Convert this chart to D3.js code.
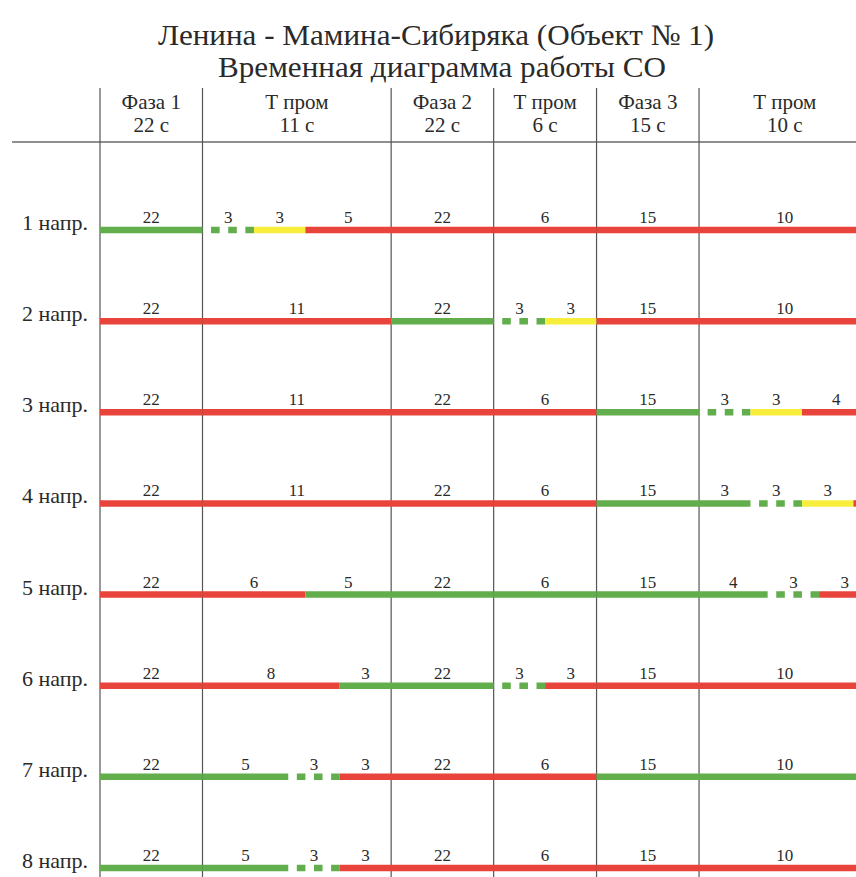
<!DOCTYPE html>
<html>
<head>
<meta charset="utf-8">
<script src="https://cdn.jsdelivr.net/npm/d3@7"></script>
</head>
<body style="margin:0">
<script>
// columns of the cycle
let colNames = ["Фаза 1", "Т пром", "Фаза 2", "Т пром", "Фаза 3", "Т пром"];
let colDur = [22, 11, 22, 6, 15, 10];
let colIsPhase = [true, false, true, false, true, false];

let rowNames = ["1 напр.", "2 напр.", "3 напр.", "4 напр.", "5 напр.", "6 напр.", "7 напр.", "8 напр."];

// signal per row, per column: [state, seconds]; g = green, gb = blinking green, y = yellow, r = red
let row1 = [[["g", 22]], [["gb", 3], ["y", 3], ["r", 5]], [["r", 22]], [["r", 6]], [["r", 15]], [["r", 10]]];
let row2 = [[["r", 22]], [["r", 11]], [["g", 22]], [["gb", 3], ["y", 3]], [["r", 15]], [["r", 10]]];
let row3 = [[["r", 22]], [["r", 11]], [["r", 22]], [["r", 6]], [["g", 15]], [["gb", 3], ["y", 3], ["r", 4]]];
let row4 = [[["r", 22]], [["r", 11]], [["r", 22]], [["r", 6]], [["g", 15]], [["g", 3], ["gb", 3], ["y", 3], ["r", 1]]];
let row5 = [[["r", 22]], [["r", 6], ["g", 5]], [["g", 22]], [["g", 6]], [["g", 15]], [["g", 4], ["gb", 3], ["r", 3]]];
let row6 = [[["r", 22]], [["r", 8], ["g", 3]], [["g", 22]], [["gb", 3], ["r", 3]], [["r", 15]], [["r", 10]]];
let row7 = [[["g", 22]], [["g", 5], ["gb", 3], ["r", 3]], [["r", 22]], [["r", 6]], [["g", 15]], [["g", 10]]];
let row8 = [[["g", 22]], [["g", 5], ["gb", 3], ["r", 3]], [["r", 22]], [["r", 6]], [["r", 15]], [["r", 10]]];
let rows = [row1, row2, row3, row4, row5, row6, row7, row8];

let stateColor = {g: "#62ad4c", gb: "#62ad4c", y: "#f7ee3c", r: "#e8443b"};

let width = 856, height = 877;
let left = 100, phaseWidth = 102.5, secWidth = 17.15;
let barWidth = 6.5;

let svg = d3.select("body").append("svg")
    .attr("width", width)
    .attr("height", height);

// each column gets its own time scale
let x0 = left;
let colScales = colDur.map((d, i) => {
    let w = colIsPhase[i] ? phaseWidth : d * secWidth;
    let s = d3.scaleLinear().domain([0, d]).range([x0, x0 + w]);
    x0 += w;
    return s;
});

let yScale = d3.scalePoint().domain(rowNames).range([230, 868]);

function serif(sel, size) {
    sel.style("font-family", "'Liberation Serif'")
        .style("font-size", size + "px")
        .style("fill", "#2a2a2a");
}

// title
svg.append("text").attr("x", 436).attr("y", 45).attr("text-anchor", "middle")
    .call(serif, 30)
    .attr("textLength", 556).attr("lengthAdjust", "spacingAndGlyphs")
    .text("Ленина - Мамина-Сибиряка (Объект № 1)");
svg.append("text").attr("x", 442).attr("y", 77).attr("text-anchor", "middle")
    .call(serif, 30)
    .attr("textLength", 448).attr("lengthAdjust", "spacingAndGlyphs")
    .text("Временная диаграмма работы СО");

// header
svg.append("line").attr("x1", 12).attr("x2", width).attr("y1", 142).attr("y2", 142)
    .attr("stroke", "#6a6a6a").attr("stroke-width", 1.5);

let bounds = colScales.map(s => s.range()[0]);
svg.selectAll("line.col").data(bounds).enter().append("line")
    .attr("class", "col")
    .attr("x1", d => d).attr("x2", d => d)
    .attr("y1", 88).attr("y2", height)
    .attr("stroke", "#555").attr("stroke-width", 1.2);

let head = svg.selectAll("g.head").data(colNames).enter().append("g")
    .attr("class", "head")
    .attr("transform", (d, i) => "translate(" + d3.mean(colScales[i].range()) + ",0)");
head.append("text").attr("y", 109).attr("text-anchor", "middle")
    .call(serif, 21)
    .text(d => d);
head.append("text").attr("y", 132).attr("text-anchor", "middle")
    .call(serif, 21)
    .text((d, i) => colDur[i] + " с");

// row labels
svg.selectAll("text.rowname").data(rowNames).enter().append("text")
    .attr("class", "rowname")
    .attr("x", 22).attr("y", d => yScale(d))
    .call(serif, 22)
    .text(d => d);

// flatten segments with their column scale
let segs = [];
rows.forEach((r, ri) => {
    r.forEach((col, ci) => {
        let t = 0;
        col.forEach(([state, dur]) => {
            segs.push({row: rowNames[ri], col: ci, state: state, t0: t, t1: t + dur, dur: dur});
            t += dur;
        });
    });
});

let half = colScales[1](0.5) - colScales[1](0);

svg.selectAll("line.seg").data(segs).enter().append("line")
    .attr("class", "seg")
    .attr("x1", d => colScales[d.col](d.t0))
    .attr("x2", d => colScales[d.col](d.t1))
    .attr("y1", d => yScale(d.row))
    .attr("y2", d => yScale(d.row))
    .attr("stroke", d => stateColor[d.state])
    .attr("stroke-width", barWidth)
    .attr("stroke-dasharray", d => d.state === "gb" ? half + " " + half : null)
    .attr("stroke-dashoffset", d => d.state === "gb" ? half : null);

// durations above the segments (1-second tail is left unlabeled)
svg.selectAll("text.dur").data(segs.filter(d => d.dur > 1)).enter().append("text")
    .attr("class", "dur")
    .attr("x", d => colScales[d.col]((d.t0 + d.t1) / 2))
    .attr("y", d => yScale(d.row) - 7)
    .attr("text-anchor", "middle")
    .call(serif, 17)
    .text(d => d.dur);
</script>
</body>
</html>
